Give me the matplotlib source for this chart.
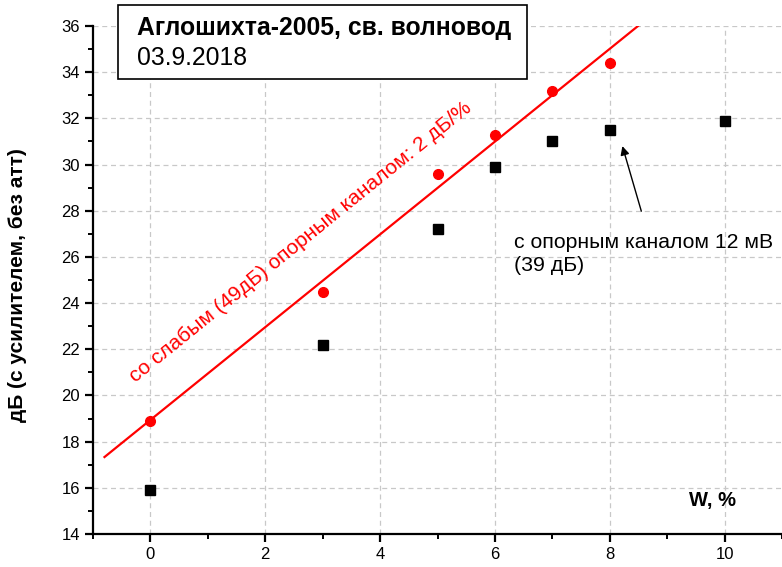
import matplotlib
matplotlib.use("Agg")
import matplotlib.pyplot as plt
import numpy as np
from matplotlib.ticker import MultipleLocator

plt.rcParams["font.family"] = ["Liberation Sans", "DejaVu Sans"]

# Measurements
w_ref12 = [0, 3, 5, 6, 7, 8, 10]
db_ref12 = [15.9, 22.2, 27.2, 29.9, 31.0, 31.5, 31.9]
w_ref49 = [0, 3, 5, 6, 7, 8]
db_ref49 = [18.9, 24.5, 29.6, 31.3, 33.2, 34.4]

# Linear fit of the weak-reference series
k, b = np.polyfit(w_ref49, db_ref49, 1)
x_fit = np.array([-0.8, 9.0])

fig = plt.figure(figsize=(7.82, 5.67), dpi=100)
ax = fig.add_axes([93 / 782, 33 / 567, 1 - 93 / 782, (534 - 26) / 567])

ax.plot(x_fit, k * x_fit + b, "-", color="red", lw=1.6, zorder=3)
ax.plot(w_ref49, db_ref49, "o", color="red", ms=7, zorder=4)
ax.plot(w_ref12, db_ref12, "s", color="black", ms=6.5, zorder=4)

ax.set_xlim(-1, 11)
ax.set_ylim(14, 36)
ax.xaxis.set_major_locator(MultipleLocator(2))
ax.xaxis.set_minor_locator(MultipleLocator(1))
ax.yaxis.set_major_locator(MultipleLocator(2))
ax.yaxis.set_minor_locator(MultipleLocator(1))
ax.grid(True, which="major", ls=(0, (4, 3)), color="#c8c8c8", lw=0.9)
ax.set_axisbelow(True)

for s in ["top", "right"]:
    ax.spines[s].set_visible(False)
for s in ["left", "bottom"]:
    ax.spines[s].set_linewidth(1.6)
ax.tick_params(which="major", direction="out", length=5.8, width=1.6,
               labelsize=12, pad=3.5)
ax.tick_params(which="minor", direction="out", length=3.6, width=1.4)

fig.text(18 / 782, 1 - 285 / 567, "дБ (с усилителем, без атт)", fontsize=15,
         fontweight="bold", rotation=90, ha="center", va="center")
ax.text(9.79, 15.45, "W, %", fontsize=14.5, fontweight="bold", ha="center", va="center")

ax.text(2.62, 26.64, "со слабым (49дБ) опорным каналом: 2 дБ/%", color="red",
        fontsize=15, rotation=39, ha="center", va="center", rotation_mode="anchor")

ax.text(6.33, 27.05, "с опорным каналом 12 мВ\n(39 дБ)",
        fontsize=15.3, ha="left", va="top", linespacing=1.3)
ax.annotate("", xy=(8.22, 30.8), xytext=(8.55, 27.98),
            arrowprops=dict(arrowstyle="-|>", color="black", lw=1.0,
                            mutation_scale=13, shrinkA=0, shrinkB=0))

fig.text(137 / 782, 1 - 28 / 567, "Аглошихта-2005, св. волновод", fontsize=17.8,
         fontweight="bold", ha="left", va="center")
fig.text(137 / 782, 1 - 58 / 567, "03.9.2018", fontsize=17.8, ha="left", va="center")
box = plt.Rectangle((118 / 782, 1 - 79 / 567), (527 - 118) / 782, 74 / 567,
                    transform=fig.transFigure, facecolor="white", edgecolor="black",
                    lw=1.2, zorder=5)
fig.add_artist(box)
for t in fig.texts:
    t.set_zorder(6)

fig.savefig("out.png", dpi=100)
